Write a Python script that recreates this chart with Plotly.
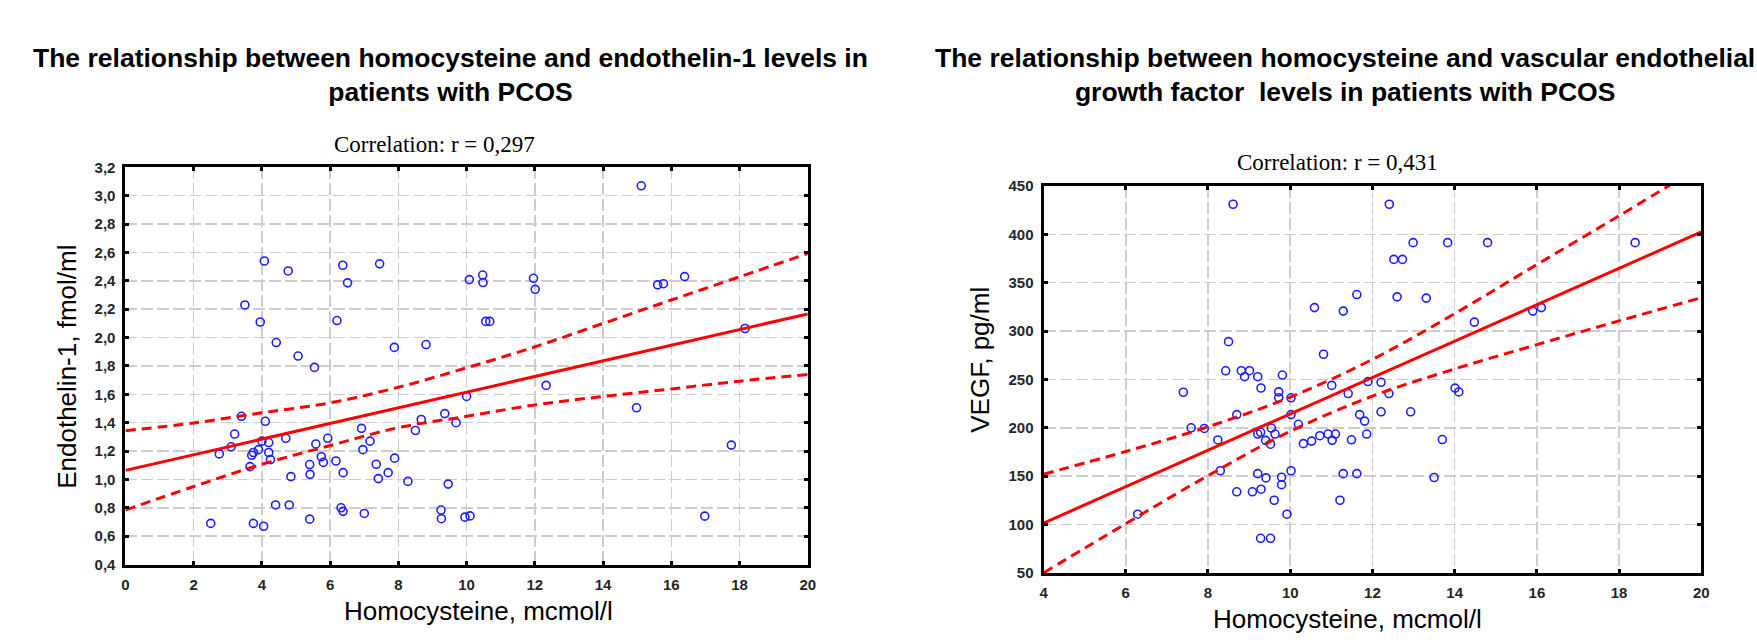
import plotly.graph_objects as go

# ---------------- data: left chart (Endothelin-1) ----------------
et_x = [2.5, 2.75, 3.1, 3.2, 3.4, 3.5, 3.65, 3.7, 3.75, 3.75, 3.9, 3.95, 4.0, 4.05, 4.07,
        4.1, 4.2, 4.2, 4.25, 4.4, 4.42, 4.7, 4.77, 4.8, 4.85, 5.06, 5.4, 5.4, 5.41, 5.54,
        5.58, 5.74, 5.8, 5.93, 6.17, 6.2, 6.32, 6.37, 6.38, 6.38, 6.51, 6.92, 6.96, 7.0,
        7.17, 7.35, 7.41, 7.45, 7.7, 7.88, 7.89, 8.28, 8.5, 8.67, 8.81, 9.25, 9.26, 9.36,
        9.46, 9.69, 9.95, 10.0, 10.08, 10.1, 10.47, 10.48, 10.56, 10.68, 11.96, 12.01,
        12.33, 14.98, 15.12, 15.6, 15.77, 16.39, 16.98, 17.76, 18.16]
et_y = [0.69, 1.18, 1.23, 1.32, 1.445, 2.23, 1.09, 1.17, 1.19, 0.69, 1.21, 2.11, 1.27, 0.67, 2.54,
        1.41, 1.26, 1.19, 1.14, 0.82, 1.965, 1.29, 2.47, 0.82, 1.02, 1.87, 0.72, 1.105, 1.036, 1.79,
        1.25, 1.16, 1.12, 1.29, 1.13, 2.12, 0.80, 2.51, 0.775, 1.048, 2.386, 1.36, 1.21, 0.76,
        1.27, 1.107, 1.006, 2.52, 1.048, 1.931, 1.15, 0.986, 1.345, 1.423, 1.951, 0.784, 0.723, 1.464,
        0.967, 1.40, 0.734, 1.585, 2.409, 0.743, 2.441, 2.388, 2.114, 2.114, 2.418, 2.34,
        1.663, 1.505, 3.07, 2.372, 2.38, 2.43, 0.741, 1.242, 2.064]
et_fit_x = [0, 20]
et_fit_y = [1.064, 2.167]
et_band_x = [0, 2, 4, 6, 8, 10, 12, 14, 16, 18, 20]
et_upper = [1.344, 1.398, 1.470, 1.540, 1.650, 1.787, 1.935, 2.100, 2.265, 2.428, 2.593]
et_lower = [0.784, 0.950, 1.107, 1.239, 1.365, 1.445, 1.525, 1.585, 1.638, 1.693, 1.740]
et_xticks = [0, 2, 4, 6, 8, 10, 12, 14, 16, 18, 20]
et_yticks = [0.4, 0.6, 0.8, 1.0, 1.2, 1.4, 1.6, 1.8, 2.0, 2.2, 2.4, 2.6, 2.8, 3.0, 3.2]
et_ylabels = ["0,4", "0,6", "0,8", "1,0", "1,2", "1,4", "1,6", "1,8", "2,0", "2,2",
              "2,4", "2,6", "2,8", "3,0", "3,2"]

# ---------------- data: right chart (VEGF) ----------------
vg_x = [6.29, 7.40, 7.59, 7.91, 8.24, 8.30, 8.43, 8.50, 8.61, 8.70, 8.70, 8.81, 8.89, 9.01,
        9.08, 9.21, 9.21, 9.21, 9.28, 9.29, 9.29, 9.28, 9.40, 9.41, 9.52, 9.52, 9.54, 9.61,
        9.63, 9.72, 9.72, 9.79, 9.79, 9.81, 9.92, 10.02, 10.02, 10.02, 10.2, 10.32, 10.52,
        10.59, 10.72, 10.81, 10.92, 11.01, 11.02, 11.1, 11.21, 11.29, 11.29, 11.41, 11.49,
        11.62, 11.62, 11.69, 11.81, 11.86, 11.89, 12.21, 12.21, 12.40, 12.41, 12.52, 12.60,
        12.73, 12.93, 12.99, 13.31, 13.5, 13.7, 13.83, 14.01, 14.1, 14.48, 14.80, 15.90,
        16.11, 18.39]
vg_y = [110.7, 236.7, 200, 199.3, 187.4, 155.6, 258.9, 289, 431, 213.6, 133.8, 259, 252.8, 259,
        133.8, 252.8, 193.5, 152.6, 195.3, 241.1, 136.5, 85.8, 187, 148.2, 85.8, 183, 199.7, 125.1,
        193.5, 237.1, 231.1, 148.9, 141.2, 254.5, 110.7, 231, 213.6, 155.6, 203.6, 183.6, 186.2,
        324.2, 191.8, 276, 193.5, 243.8, 187, 193.5, 125.1, 320.6, 152.6, 235.4, 187.6,
        337.7, 152.6, 213.6, 206.9, 193.5, 247.8, 247, 216.5, 235.4, 431, 374, 335.3,
        374, 216.5, 391.3, 334, 148.6, 187.8, 391.3, 241, 237, 309.2, 391.3, 320.6,
        324.2, 391.3]
vg_fit_x = [4, 20]
vg_fit_y = [101.5, 402.4]
vg_band_x = [4, 6, 8, 10, 12, 14, 16, 18, 20]
vg_upper = [152.0, 175.5, 201.0, 231.7, 270.7, 318.0, 368.7, 419.1, 470.4]
vg_lower = [50.0, 100.9, 150.5, 196.3, 232.7, 260.8, 285.9, 310.5, 334.4]
vg_xticks = [4, 6, 8, 10, 12, 14, 16, 18, 20]
vg_yticks = [50, 100, 150, 200, 250, 300, 350, 400, 450]

W, H = 1757, 640
SANS = "Liberation Sans, Arial, sans-serif"
SERIF = "Liberation Serif, Times New Roman, serif"
BLUE = "#1e1eff"
RED = "#ff0000"


def px(x):
    return x / W


def py(y):
    return 1 - y / H


fig = go.Figure()


def add_chart(xs, ys, fx, fy, bx, up, lo, xa, ya):
    fig.add_trace(go.Scatter(x=xs, y=ys, mode="markers", xaxis=xa, yaxis=ya,
                             marker=dict(symbol="circle-open", size=8, color=BLUE,
                                         line=dict(width=1.6, color=BLUE)),
                             showlegend=False, hoverinfo="skip"))
    fig.add_trace(go.Scatter(x=fx, y=fy, mode="lines", xaxis=xa, yaxis=ya,
                             line=dict(color=RED, width=3), showlegend=False))
    for band in (up, lo):
        fig.add_trace(go.Scatter(x=bx, y=band, mode="lines", xaxis=xa, yaxis=ya,
                                 line=dict(color=RED, width=3, dash="10px,6px", shape="spline"),
                                 showlegend=False))


add_chart(et_x, et_y, et_fit_x, et_fit_y, et_band_x, et_upper, et_lower, "x", "y")
add_chart(vg_x, vg_y, vg_fit_x, vg_fit_y, vg_band_x, vg_upper, vg_lower, "x2", "y2")


def axis(rng, vals, texts, domain, anchor):
    return dict(range=rng, domain=domain, anchor=anchor, tickmode="array", tickvals=vals,
                ticktext=texts, showgrid=True, gridcolor="#cdcdcd", griddash="12px,4px",
                gridwidth=1.5, zeroline=False, showline=True, linecolor="black", linewidth=3,
                mirror="allticks", ticks="inside", ticklen=4, tickwidth=3, tickcolor="black",
                ticklabelstandoff=4,
                tickfont=dict(family=SANS, size=15, color="#262626", weight="bold"))


fig.update_layout(
    width=W, height=H, autosize=False,
    margin=dict(l=0, r=0, t=0, b=0),
    paper_bgcolor="white", plot_bgcolor="white",
    xaxis=axis([0, 20], et_xticks, [str(v) for v in et_xticks],
               [px(122.3), px(809.3)], "y"),
    yaxis=axis([0.4, 3.2], et_yticks, et_ylabels, [py(570.7), py(162.7)], "x"),
    xaxis2=axis([4, 20], vg_xticks, [str(v) for v in vg_xticks],
                [px(1046.7), px(1709)], "y2"),
    yaxis2=axis([50, 450], vg_yticks, [str(v) for v in vg_yticks],
                [py(579.3), py(181.7)], "x2"),
)

annotations = [
    dict(text="The relationship between homocysteine and endothelin-1 levels in<br>patients with PCOS",
         x=px(450), y=py(68), font=dict(family=SANS, size=26.5, color="black", weight="bold")),
    dict(text="The relationship between homocysteine and vascular endothelial<br>growth factor&nbsp; levels in patients with PCOS",
         x=px(1350), y=py(68), font=dict(family=SANS, size=26.5, color="black", weight="bold")),
    dict(text="Correlation: r = 0,297", x=px(433), y=py(139),
         font=dict(family=SERIF, size=23, color="black")),
    dict(text="Correlation: r = 0,431", x=px(1343), y=py(158),
         font=dict(family=SERIF, size=23, color="black")),
    dict(text="Endothelin-1, fmol/ml", x=px(64), y=py(368), textangle=-90,
         font=dict(family=SANS, size=26, color="black")),
    dict(text="VEGF, pg/ml", x=px(983), y=py(360), textangle=-90,
         font=dict(family=SANS, size=26, color="black")),
    dict(text="Homocysteine, mcmol/l", x=px(478), y=py(618),
         font=dict(family=SANS, size=26, color="black")),
    dict(text="Homocysteine, mcmol/l", x=px(1353), y=py(627),
         font=dict(family=SANS, size=26, color="black")),
]
for a in annotations:
    a.update(xref="paper", yref="paper", xanchor="center", yanchor="middle",
             showarrow=False, align="center")
fig.update_layout(annotations=annotations)

fig.write_html("out.html",
               config={"displayModeBar": False, "staticPlot": True},
               post_script="document.body.style.margin='0';document.body.style.overflow='hidden';")
